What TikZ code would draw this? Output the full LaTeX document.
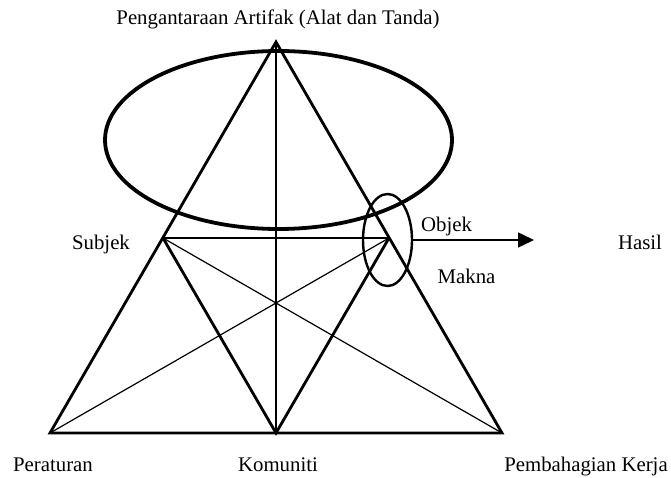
\documentclass[tikz,border=0pt]{standalone}
\usepackage{fontspec}
\setmainfont{Liberation Serif}
\usetikzlibrary{shapes.geometric,arrows.meta}
\begin{document}
\begin{tikzpicture}[x=1pt,y=-1pt,
  thickline/.style={line width=2.8pt,line join=miter},
  thinline/.style={line width=1.2pt},
  lbl/.style={anchor=base,inner sep=0pt,font=\fontsize{20.8}{25}\selectfont},
  bigell/.style={ellipse,draw,line width=3.8pt,inner sep=0pt,minimum width=347pt,minimum height=178pt},
  smallell/.style={ellipse,draw,line width=2.4pt,inner sep=0pt,minimum width=49pt,minimum height=92pt}]
\useasboundingbox (0,0) rectangle (671,478);
% vertices
\coordinate (A) at (276,42);
\coordinate (S) at (163,238);
\coordinate (O) at (389,238);
\coordinate (BL) at (50,433);
\coordinate (BC) at (276,433);
\coordinate (BR) at (502,433);
\coordinate (H) at (534,240);
% ellipses
\node[bigell] (big) at (278.5,140) {};
\node[smallell] (small) at (387.5,240) {};
% thin lines
\draw[thinline] (A) -- (BC);
\draw[thinline] (S) -- (BR);
\draw[thinline] (O) -- (BL);
% thick lines
\draw[thickline] (BL) -- (A) -- (BR) -- cycle;
\draw[thickline] (S) -- (O);
\draw[thickline] (S) -- (BC) -- (O);
% arrow
\draw[line width=1.5pt,-{Triangle[length=16pt,width=15pt]}] (small.east) -- (H);
% labels
\node[lbl] (tl) at (278,25) {Pengantaraan Artifak (Alat dan Tanda)};
\node[lbl] (sub) at (101,249) {Subjek};
\node[lbl] (obj) at (446.5,232) {Objek};
\node[lbl] (mak) at (466.5,283) {Makna};
\node[lbl] (has) at (640,249) {Hasil};
\node[lbl] (per) at (53,471) {Peraturan};
\node[lbl] (kom) at (278,471) {Komuniti};
\node[lbl] (pem) at (586,471) {Pembahagian Kerja};
\end{tikzpicture}
\end{document}
